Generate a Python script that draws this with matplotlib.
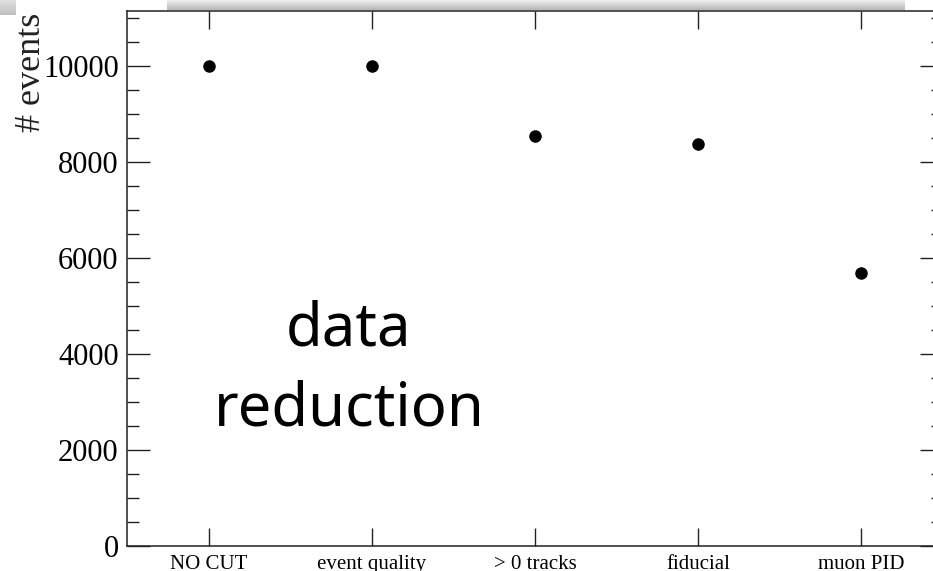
import numpy as np
import matplotlib
matplotlib.use("Agg")
import matplotlib.pyplot as plt
from matplotlib.ticker import MultipleLocator

## Data
cuts = ["NO CUT", "event quality", "> 0 tracks", "fiducial", "muon PID"]
n_events = [10000, 10000, 8535, 8365, 5690]

positions = np.arange(1, len(cuts) + 1)

fig = plt.figure(figsize=(9.33, 5.71), dpi=100)
ax = fig.add_axes([127 / 933, 1 - 545.7 / 571, 816 / 933, 534.7 / 571])

ax.plot(positions, n_events, "o", color="black", markersize=8)

ax.set_xlim(0.5, 5.5)
ax.set_ylim(0, 11140)
ax.set_xticks(positions)
ax.set_xticklabels(cuts, family="Liberation Serif", fontsize=15)
ax.yaxis.set_major_locator(MultipleLocator(2000))
ax.yaxis.set_minor_locator(MultipleLocator(500))
for lab in ax.get_yticklabels():
    lab.set_family("Liberation Serif")
    lab.set_fontsize(22)

ax.tick_params(axis="x", which="major", direction="in", top=True, bottom=True,
               length=13, width=1, pad=7, colors="#222222", labelcolor="black")
ax.tick_params(axis="y", which="major", direction="in", left=True, right=True,
               length=16.5, width=1, pad=6, colors="#222222", labelcolor="black")
ax.tick_params(axis="y", which="minor", direction="in", left=True, right=True,
               length=8.5, width=1, colors="#222222")
for sp in ax.spines.values():
    sp.set_linewidth(1.1)
    sp.set_color("#222222")

# y label sits at the top of the axis
fig.text(31 / 933, 1 - 72 / 571, "# events", rotation=90, ha="center", va="center",
         family="Liberation Serif", fontsize=26, color="#222222")

# overlay text
ax.text(0.272, 0.375, "data", transform=ax.transAxes, ha="center", va="baseline",
        family="Noto Sans", fontsize=43)
ax.text(0.272, 0.2257, "reduction", transform=ax.transAxes, ha="center", va="baseline",
        family="Noto Sans", fontsize=43)

# blurry grey slide strips at the top
grad = np.linspace(0.93, 0.72, 20).reshape(-1, 1)
strip = fig.add_axes([167 / 933, 1 - 10 / 571, 738 / 933, 10 / 571])
strip.imshow(grad, cmap="gray", vmin=0, vmax=1, aspect="auto")
strip.axis("off")
blob = fig.add_axes([0, 1 - 15 / 571, 16 / 933, 15 / 571])
blob.imshow(np.linspace(0.88, 0.75, 20).reshape(-1, 1), cmap="gray", vmin=0, vmax=1, aspect="auto")
blob.axis("off")

fig.savefig("out.png", dpi=100)
